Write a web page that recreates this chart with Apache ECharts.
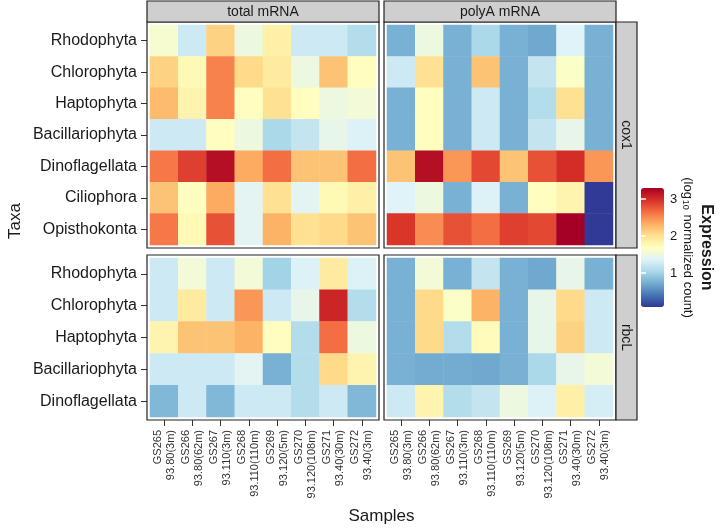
<!DOCTYPE html>
<html>
<head>
<meta charset="utf-8">
<script src="https://cdn.jsdelivr.net/npm/echarts@6/dist/echarts.min.js"></script>
<style>html,body{margin:0;padding:0;background:#fff;}#c{width:720px;height:528px;}</style>
</head>
<body>
<div id="c"></div>
<script>
// ---------------- data ----------------
const taxaCox1 = ['Rhodophyta','Chlorophyta','Haptophyta','Bacillariophyta','Dinoflagellata','Ciliophora','Opisthokonta'];
const taxaRbcL = ['Rhodophyta','Chlorophyta','Haptophyta','Bacillariophyta','Dinoflagellata'];
const sampleLabels = ['GS265\n93.80(3m)','GS266\n93.80(62m)','GS267\n93.110(3m)','GS268\n93.110(110m)',
                      'GS269\n93.120(5m)','GS270\n93.120(108m)','GS271\n93.40(30m)','GS272\n93.40(3m)'];
const panelTitles = ['total mRNA','polyA mRNA'];
const geneTitles = ['cox1','rbcL'];
const legendTicks = [1, 2, 3];
const valueMin = 0.08, valueMax = 3.3;

// rows = taxa, columns = samples (log10 normalized count)
const totalCox1 = [
  [1.60,1.25,2.10,1.50,1.85,1.25,1.25,1.10],
  [2.10,1.75,2.55,2.05,1.90,1.50,2.20,1.70],
  [2.25,1.80,2.55,1.70,2.00,1.70,1.50,1.55],
  [1.25,1.25,1.70,1.50,1.05,1.20,1.45,1.35],
  [2.60,2.90,3.20,2.35,2.65,2.20,2.20,2.65],
  [2.20,1.70,2.35,1.40,2.00,1.40,1.75,1.85],
  [2.60,1.75,2.80,1.40,2.30,2.00,2.05,2.20]
];
const polyCox1 = [
  [0.75,1.50,0.75,1.05,0.75,0.70,1.37,0.75],
  [1.25,2.00,0.75,2.20,0.75,1.20,1.65,0.75],
  [0.75,1.70,0.75,1.25,0.75,1.10,2.00,0.75],
  [0.75,1.70,0.75,1.25,0.75,1.20,1.45,0.75],
  [2.20,3.20,2.45,2.85,2.20,2.80,3.00,2.45],
  [1.37,1.50,0.75,1.35,0.75,1.70,1.80,0.10],
  [2.95,2.50,2.80,2.65,2.90,2.85,3.30,0.10]
];
const totalRbcL = [
  [1.25,1.55,1.25,1.55,1.00,1.35,1.90,1.35],
  [1.25,1.90,1.25,2.45,1.25,1.45,3.05,1.10],
  [1.80,2.20,2.20,2.30,1.70,1.10,2.65,1.50],
  [1.25,1.25,1.25,1.40,0.75,1.10,2.05,1.80],
  [0.80,1.25,0.80,1.25,1.25,1.10,1.25,0.80]
];
const polyRbcL = [
  [0.75,1.55,0.75,1.20,0.75,0.70,1.45,0.75],
  [0.75,2.05,1.65,2.30,0.75,1.45,2.05,1.25],
  [0.75,2.05,1.10,1.72,0.75,1.45,2.10,1.25],
  [0.75,0.72,0.72,0.70,0.75,1.05,1.45,1.55],
  [1.25,1.80,1.10,1.20,1.50,1.35,1.85,1.30]
];

// ---------------- layout ----------------
const FONT = '"Liberation Sans", Arial, Helvetica, sans-serif';
const TXT = '#1a1a1a';
const colLeft = [150, 387];
const colW = 226;
const rowTop = [25, 258];
const rowH = [220, 159];
const PAD = 3;
const STRIP = 21;

const palette = ['#313695','#4575b4','#74add1','#abd9e9','#e0f3f8','#ffffbf',
                 '#fee090','#fdae61','#f46d43','#d73027','#a50026'];

const matrices = [[totalCox1, polyCox1],[totalRbcL, polyRbcL]];
const taxaRows = [taxaCox1, taxaRbcL];

const grids = [], xAxes = [], yAxes = [], series = [];
for (let r = 0; r < 2; r++) {
  for (let c = 0; c < 2; c++) {
    const idx = grids.length;
    grids.push({left: colLeft[c], top: rowTop[r], width: colW, height: rowH[r], containLabel: false});
    const bottomRow = r === 1;
    xAxes.push({
      type: 'category', gridIndex: idx, data: sampleLabels, position: 'bottom', offset: PAD,
      axisLine: {show: false},
      axisTick: {show: bottomRow, length: 6, alignWithLabel: true, lineStyle: {color: '#333'}},
      axisLabel: {show: bottomRow, rotate: 90, fontSize: 11, lineHeight: 13, color: '#333', fontFamily: FONT, margin: 10, interval: 0},
      splitLine: {show: false}
    });
    yAxes.push({
      type: 'category', gridIndex: idx, data: taxaRows[r], inverse: true, offset: PAD,
      axisLine: {show: false},
      axisTick: {show: c === 0, length: 6, alignWithLabel: true, lineStyle: {color: '#333'}},
      axisLabel: {show: c === 0, fontSize: 16, color: TXT, fontFamily: FONT, margin: 10},
      splitLine: {show: false}
    });
    const m = matrices[r][c];
    const data = [];
    m.forEach((row, yi) => row.forEach((v, xi) => data.push([xi, yi, v])));
    series.push({
      type: 'heatmap', xAxisIndex: idx, yAxisIndex: idx, data: data,
      itemStyle: {borderWidth: 0}, emphasis: {disabled: true}, progressive: 0, silent: true
    });
  }
}

// legend colorbar tick labels grid
const LG = {left: 641, top: 188, width: 23, height: 119};
grids.push({left: LG.left, top: LG.top, width: LG.width, height: LG.height});
xAxes.push({type: 'value', gridIndex: 4, show: false, min: 0, max: 1});
yAxes.push({
  type: 'value', gridIndex: 4, min: valueMin, max: valueMax, position: 'right', z: 10,
  axisLine: {show: false},
  axisTick: {show: true, inside: true, length: 5, customValues: legendTicks, lineStyle: {color: '#fff', width: 1.5}},
  axisLabel: {show: true, customValues: legendTicks, fontSize: 13, color: TXT, fontFamily: FONT, margin: 6},
  splitLine: {show: false}
});
yAxes.push({
  type: 'value', gridIndex: 4, min: valueMin, max: valueMax, position: 'left', z: 10,
  axisLine: {show: false},
  axisTick: {show: true, inside: true, length: 5, customValues: legendTicks, lineStyle: {color: '#fff', width: 1.5}},
  axisLabel: {show: false},
  splitLine: {show: false}
});

// frames and strips
const graphics = [];
for (let r = 0; r < 2; r++) {
  for (let c = 0; c < 2; c++) {
    graphics.push({type: 'rect', z: 50, shape: {x: colLeft[c] - PAD, y: rowTop[r] - PAD, width: colW + 2 * PAD, height: rowH[r] + 2 * PAD},
      style: {fill: 'none', stroke: '#222', lineWidth: 1.2}});
  }
}
for (let c = 0; c < 2; c++) {
  const x = colLeft[c] - PAD, y = rowTop[0] - PAD - STRIP, w = colW + 2 * PAD;
  graphics.push({type: 'rect', z: 50, shape: {x: x, y: y, width: w, height: STRIP}, style: {fill: '#cfcfcf', stroke: '#222', lineWidth: 1.2}});
  graphics.push({type: 'text', z: 51, x: x + w / 2, y: y + STRIP / 2 + 1,
    style: {text: panelTitles[c], font: '14px ' + FONT, fill: TXT, align: 'center', verticalAlign: 'middle'}});
}
for (let r = 0; r < 2; r++) {
  const x = colLeft[1] + colW + PAD, y = rowTop[r] - PAD, h = rowH[r] + 2 * PAD;
  graphics.push({type: 'rect', z: 50, shape: {x: x, y: y, width: STRIP, height: h}, style: {fill: '#cfcfcf', stroke: '#222', lineWidth: 1.2}});
  graphics.push({type: 'text', z: 51, x: x + STRIP / 2 - 1, y: y + h / 2, rotation: -Math.PI / 2,
    style: {text: geneTitles[r], font: '14px ' + FONT, fill: TXT, align: 'center', verticalAlign: 'middle'}});
}
// axis titles
graphics.push({type: 'text', x: 15, y: (rowTop[0] + rowTop[1] + rowH[1]) / 2, rotation: Math.PI / 2,
  style: {text: 'Taxa', font: '17px ' + FONT, fill: TXT, align: 'center', verticalAlign: 'middle'}});
graphics.push({type: 'text', x: (colLeft[0] + colLeft[1] + colW) / 2, y: 516,
  style: {text: 'Samples', font: '17px ' + FONT, fill: TXT, align: 'center', verticalAlign: 'middle'}});
// legend title
const lgCy = LG.top + LG.height / 2;
graphics.push({type: 'text', x: 706, y: lgCy, rotation: -Math.PI / 2,
  style: {text: 'Expression', font: 'bold 16px ' + FONT, fill: TXT, align: 'center', verticalAlign: 'middle'}});
graphics.push({type: 'text', x: 688, y: lgCy, rotation: -Math.PI / 2,
  style: {text: '{a|(log}{s|10}{a| normalized count)}', fill: TXT, align: 'center', verticalAlign: 'middle',
    rich: {a: {font: '13px ' + FONT, fill: TXT}, s: {font: '9px ' + FONT, fill: TXT, verticalAlign: 'bottom', padding: [6, 1, 0, 1]}}}});

const chart = echarts.init(document.getElementById('c'), null, {renderer: 'canvas'});
chart.setOption({
  backgroundColor: '#fff',
  animation: false,
  grid: grids,
  xAxis: xAxes,
  yAxis: yAxes,
  visualMap: {
    type: 'continuous', min: valueMin, max: valueMax, seriesIndex: [0, 1, 2, 3],
    calculable: false, orient: 'vertical', left: LG.left, top: LG.top,
    itemWidth: LG.width, itemHeight: LG.height, padding: 0, text: null, showLabel: false,
    inRange: {color: palette}, hoverLink: false
  },
  series: series,
  graphic: graphics
});
</script>
</body>
</html>
